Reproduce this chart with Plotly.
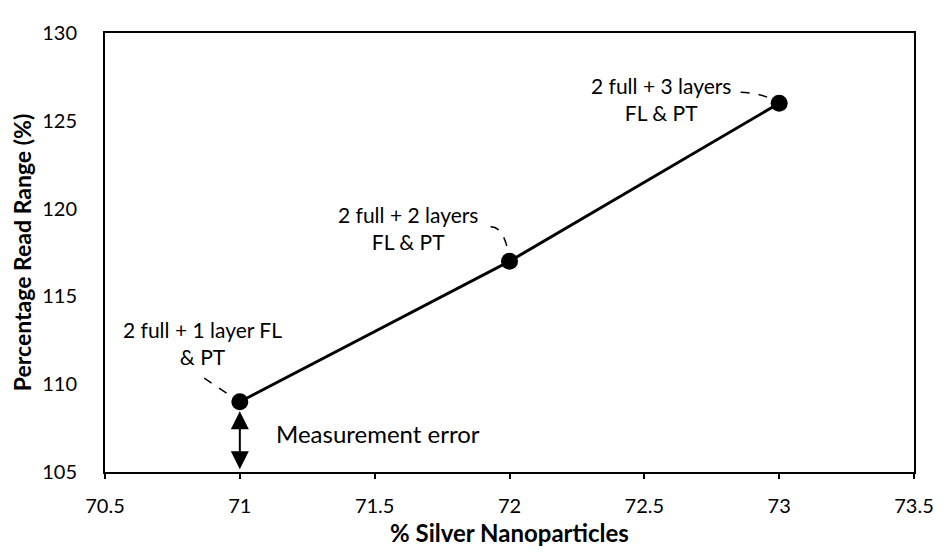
import plotly.graph_objects as go

# Data
silver_pct = [71, 72, 73]
read_range = [109, 117, 126]
point_labels = ["2 full + 1 layer FL<br>& PT", "2 full + 2 layers<br>FL & PT", "2 full + 3 layers<br>FL & PT"]
label_x = [70.86, 71.625, 72.56]
label_y = [112.37, 118.92, 126.23]
leader_x0 = [70.868, 71.93, 72.857]
leader_y0 = [110.35, 118.97, 126.62]
leader_cx = [70.93, 71.985, 72.94]
leader_cy = [109.7, 118.97, 126.6]
error_low, error_high = 105.15, 108.55

FONT = "Lato, 'Open Sans', sans-serif"
INK = "#000000"

fig = go.Figure()

# Dashed leader lines from labels to points
for x0, y0, cx, cy, x1, y1 in zip(leader_x0, leader_y0, leader_cx, leader_cy, silver_pct, read_range):
    fig.add_shape(
        type="path",
        path=f"M {x0},{y0} Q {cx},{cy} {x1},{y1}",
        xref="x",
        yref="y",
        layer="below",
        line={"color": INK, "width": 1.5, "dash": "dash"},
    )

fig.add_trace(
    go.Scatter(
        x=silver_pct,
        y=read_range,
        mode="lines+markers",
        line={"color": INK, "width": 3},
        marker={"color": INK, "size": 17},
        showlegend=False,
    )
)

annotations = []
for lx, ly, txt in zip(label_x, label_y, point_labels):
    annotations.append(
        {
            "x": lx,
            "y": ly,
            "xref": "x",
            "yref": "y",
            "text": txt,
            "showarrow": False,
            "align": "center",
            "font": {"family": FONT, "size": 21, "color": INK},
        }
    )

# Measurement error double arrow
annotations.append(
    {
        "x": silver_pct[0],
        "y": error_low,
        "ax": silver_pct[0],
        "ay": error_high,
        "xref": "x",
        "yref": "y",
        "axref": "x",
        "ayref": "y",
        "text": "",
        "showarrow": True,
        "arrowhead": 2,
        "arrowside": "end+start",
        "arrowsize": 1.8,
        "arrowwidth": 2,
        "arrowcolor": INK,
    }
)
annotations.append(
    {
        "x": 71.125,
        "y": 107.18,
        "xref": "x",
        "yref": "y",
        "xanchor": "left",
        "text": "Measurement error",
        "showarrow": False,
        "font": {"family": FONT, "size": 24, "color": INK},
    }
)

fig.update_layout(
    width=938,
    height=547,
    paper_bgcolor="white",
    plot_bgcolor="white",
    margin={"l": 97, "r": 25, "t": 12, "b": 77},
    font={"family": FONT, "size": 20, "color": INK},
    annotations=annotations,
    xaxis={
        "range": [70.5, 73.5],
        "dtick": 0.5,
        "tick0": 70.5,
        "showgrid": False,
        "zeroline": False,
        "showline": True,
        "linecolor": INK,
        "linewidth": 2,
        "mirror": True,
        "ticks": "outside",
        "ticklen": 5,
        "tickwidth": 2,
        "tickcolor": INK,
        "ticklabelstandoff": 10,
        "tickfont": {"family": FONT, "size": 20, "color": INK},
        "title": {
            "text": "<b>% Silver Nanoparticles</b>",
            "font": {"family": FONT, "size": 24, "color": INK},
            "standoff": 9,
        },
    },
    yaxis={
        "range": [105, 130],
        "dtick": 5,
        "showgrid": False,
        "zeroline": False,
        "showline": True,
        "linecolor": INK,
        "linewidth": 2,
        "mirror": True,
        "ticks": "",
        "ticklabelstandoff": 22,
        "tickfont": {"family": FONT, "size": 20, "color": INK},
        "title": {
            "text": "<b>Percentage Read Range (%)</b>",
            "font": {"family": FONT, "size": 23, "color": INK},
            "standoff": 6,
        },
    },
)

fig.write_html("out.html")
